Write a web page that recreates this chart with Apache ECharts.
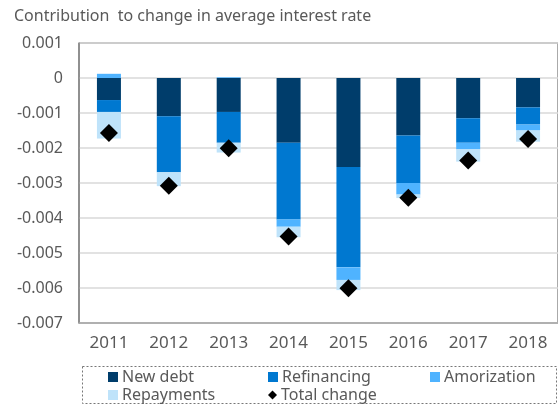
<!DOCTYPE html>
<html>
<head>
<meta charset="utf-8">
<script src="https://cdn.jsdelivr.net/npm/echarts@6/dist/echarts.min.js"></script>
<style>
  html, body { margin: 0; padding: 0; background: #fff; }
  #chart { width: 558px; height: 405px; }
</style>
</head>
<body>
<div id="chart"></div>
<script>
// data
const years = ['2011', '2012', '2013', '2014', '2015', '2016', '2017', '2018']
const newDebt = [-0.00063, -0.00109, -0.00097, -0.00185, -0.00254, -0.00164, -0.00115, -0.00084]
const refinancing = [-0.00034, -0.0016, -0.00088, -0.00219, -0.00287, -0.00136, -0.0007, -0.00049]
const amorization = [0.00012, 0, 0.00002, -0.00021, -0.00036, -0.00033, -0.00019, -0.00017]
const repayments = [-0.00076, -0.0004, -0.00028, -0.0003, -0.00029, -0.0001, -0.00035, -0.00032]
const totalChange = [-0.00157, -0.00308, -0.00201, -0.00453, -0.00601, -0.00342, -0.00236, -0.00174]

const colors = {
  newDebt: '#003d6b',
  refinancing: '#0078d0',
  amorization: '#4fb3ff',
  repayments: '#bfe3fa'
}
const txt = '#595959'
const font = 'Noto Sans'

const chart = echarts.init(document.getElementById('chart'))

const legendItem = (name, left, top, icon, size) => ({
  data: [name],
  left: left,
  top: top,
  icon: icon,
  itemWidth: size,
  itemHeight: size,
  itemGap: 0,
  padding: 0,
  selectedMode: false,
  textStyle: { color: txt, fontSize: 16, fontFamily: font, padding: [0, 0, 0, -1] }
})

const barSeries = (name, data, color) => ({
  name: name,
  type: 'bar',
  stack: 'total',
  data: data,
  barWidth: 24,
  itemStyle: { color: color },
  emphasis: { disabled: true }
})

const option = {
  animation: false,
  title: {
    text: 'Contribution  to change in average interest rate',
    left: 9,
    top: 3,
    textStyle: { color: txt, fontSize: 16, fontWeight: 'normal', fontFamily: font }
  },
  legend: [
    legendItem('New debt', 108, 369, 'rect', 10),
    legendItem('Refinancing', 268, 369, 'rect', 10),
    legendItem('Amorization', 430, 369, 'rect', 10),
    legendItem('Repayments', 108, 387, 'rect', 10),
    legendItem('Total change', 268, 387, 'diamond', 9)
  ],
  grid: {
    left: 79,
    right: -2,
    top: 43,
    bottom: 82,
    show: true,
    borderColor: '#555',
    borderWidth: 1
  },
  xAxis: {
    type: 'category',
    data: years,
    axisLine: { onZero: false, lineStyle: { color: '#a6a6a6', width: 1.5 } },
    axisTick: { inside: true, length: 6, lineStyle: { color: '#a6a6a6', width: 1.5 } },
    axisLabel: { color: txt, fontSize: 17, fontFamily: font, margin: 12 }
  },
  yAxis: {
    type: 'value',
    min: -0.007,
    max: 0.001,
    interval: 0.001,
    axisLine: { show: true, lineStyle: { color: '#888', width: 1.5 } },
    axisTick: { show: false },
    splitLine: { lineStyle: { color: '#d9d9d9', width: 1.5 } },
    axisLabel: {
      color: txt,
      fontSize: 16,
      fontFamily: font,
      margin: 16,
      formatter: v => Math.abs(v) < 1e-9 ? '0' : v.toFixed(3)
    }
  },
  series: [
    barSeries('New debt', newDebt, colors.newDebt),
    barSeries('Refinancing', refinancing, colors.refinancing),
    barSeries('Amorization', amorization, colors.amorization),
    barSeries('Repayments', repayments, colors.repayments),
    {
      name: 'Total change',
      type: 'scatter',
      data: totalChange,
      symbol: 'diamond',
      symbolSize: [18, 18],
      itemStyle: { color: '#000', opacity: 1 },
      emphasis: { disabled: true },
      z: 5
    }
  ],
  graphic: [
    {
      type: 'rect',
      shape: { x: 82.5, y: 366.5, width: 474, height: 37 },
      style: { fill: 'none', stroke: '#777', lineWidth: 1, lineDash: [2, 2] },
      silent: true
    }
  ]
}

chart.setOption(option)
window.addEventListener('resize', () => chart.resize())
</script>
</body>
</html>
